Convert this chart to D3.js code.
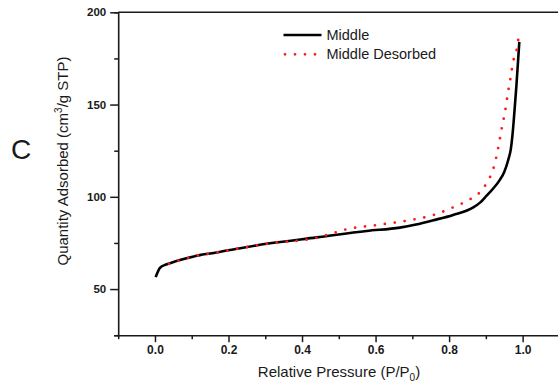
<!DOCTYPE html>
<html>
<head>
<meta charset="utf-8">
<script src="https://cdn.jsdelivr.net/npm/d3@7"></script>
<style>
html,body{margin:0;padding:0;background:#fff;}
svg{display:block;}
text{font-family:"Liberation Sans",Arial,sans-serif;fill:#1a1a1a;}
</style>
</head>
<body>
<svg id="chart" width="558" height="389"></svg>
<script>
// Adsorption branch ("Middle")
const adsP = [0.002,0.0136,0.030,0.045,0.068,0.122,0.150,0.204,0.313,0.440,0.576,0.666,0.710,0.757,0.811,0.866,0.885,0.902,0.920,0.938,0.950,0.961,0.968,0.972,0.976,0.983,0.991];
const adsQ = [56.5,61.5,63.3,64.3,65.7,68.4,69.3,71.2,74.8,78.0,81.5,83.3,85.0,87.3,90.2,94.3,97.0,100.6,104.5,109.2,113.5,120.1,126.0,132.7,141.8,160.0,184.0];
// Desorption branch ("Middle Desorbed")
const desP = [0.988,0.984,0.974,0.968,0.961,0.952,0.943,0.934,0.922,0.902,0.884,0.857,0.811,0.757,0.680,0.603,0.521,0.467,0.440,0.313,0.204,0.150,0.122,0.068,0.045,0.020];
const desQ = [185.0,180.0,173.0,165.5,157.5,146.0,137.0,127.0,116.4,107.4,102.5,98.7,94.3,90.1,86.9,84.7,82.4,79.3,77.8,74.8,71.2,69.3,68.4,65.7,64.3,62.5];
const xMajorTicks = [0.0,0.2,0.4,0.6,0.8,1.0];
const xMinorTicks = [-0.1,0.1,0.3,0.5,0.7,0.9,1.1];
const yMajorTicks = [50,100,150,200];
const yMinorTicks = [25,75,125,175];
const seriesNames = ["Middle","Middle Desorbed"];

const svg = d3.select("#chart");
const x = d3.scaleLinear().domain([-0.1,1.1]).range([118.2,559.4]);
const y = d3.scaleLinear().domain([25,200]).range([335.2,12.3]);
const ink = "#1a1a1a";

// plot frame top line
svg.append("line").attr("x1",118.2).attr("x2",558).attr("y1",12.3).attr("y2",12.3)
  .attr("stroke",ink).attr("stroke-width",1.6);

// X axis
const gx = svg.append("g").attr("transform","translate(0,335.2)");
gx.call(d3.axisBottom(x).tickValues(xMinorTicks).tickSize(4).tickFormat(""));
const gxM = svg.append("g").attr("transform","translate(0,335.2)");
gxM.call(d3.axisBottom(x).tickValues(xMajorTicks).tickSize(7).tickPadding(5).tickFormat(d3.format(".1f")));
[gx,gxM].forEach(g=>{
  g.select(".domain").attr("stroke",ink).attr("stroke-width",1.6);
  g.selectAll(".tick line").attr("stroke",ink).attr("stroke-width",1.5);
});
gx.select(".domain").attr("d","M118.2,0.5H558");
gxM.select(".domain").remove();
gxM.selectAll(".tick text").attr("font-size","12px").attr("font-weight","bold")
  .attr("y",null).attr("dy",null).attr("transform","translate(0,19)").style("fill",ink)
  .attr("font-family","Liberation Sans, Arial, sans-serif");

// Y axis
const gy = svg.append("g").attr("transform","translate(118.2,0)");
gy.call(d3.axisLeft(y).tickValues(yMinorTicks).tickSize(4).tickFormat(""));
const gyM = svg.append("g").attr("transform","translate(118.2,0)");
gyM.call(d3.axisLeft(y).tickValues(yMajorTicks).tickSize(8).tickPadding(4).tickFormat(d3.format("d")));
[gy,gyM].forEach(g=>{
  g.select(".domain").attr("stroke",ink).attr("stroke-width",1.6);
  g.selectAll(".tick line").attr("stroke",ink).attr("stroke-width",1.5);
});
gyM.select(".domain").remove();
gyM.selectAll(".tick text").attr("font-size","11.5px").attr("font-weight","bold").style("fill",ink)
  .attr("font-family","Liberation Sans, Arial, sans-serif");

// Curves
const lineGen = d3.line().x(d=>x(d[0])).y(d=>y(d[1])).curve(d3.curveMonotoneX);
const ads = adsP.map((p,i)=>[p,adsQ[i]]);
const des = desP.map((p,i)=>[p,desQ[i]]);
svg.append("path").attr("d",lineGen(ads))
  .attr("fill","none").attr("stroke","#000").attr("stroke-width",2.6).attr("stroke-linejoin","round");
svg.append("path").attr("d",lineGen(des))
  .attr("fill","none").attr("stroke","#ff1a1a").attr("stroke-width",2.8)
  .attr("stroke-linecap","round").attr("stroke-dasharray","0 10");

// Legend
svg.append("line").attr("x1",283.5).attr("x2",321.5).attr("y1",35).attr("y2",35)
  .attr("stroke","#000").attr("stroke-width",2.6);
svg.append("line").attr("x1",285).attr("x2",318).attr("y1",54.3).attr("y2",54.3)
  .attr("stroke","#ff1a1a").attr("stroke-width",2.8).attr("stroke-linecap","round").attr("stroke-dasharray","0 10");
svg.append("text").attr("x",326.5).attr("y",39.6).attr("font-size","14.5px").text(seriesNames[0]);
svg.append("text").attr("x",326.5).attr("y",58.8).attr("font-size","14.5px").text(seriesNames[1]);

// Axis titles
const xt = svg.append("text").attr("x",339).attr("y",377).attr("text-anchor","middle").attr("font-size","15px");
xt.append("tspan").text("Relative Pressure (P/P");
xt.append("tspan").attr("font-size","10px").attr("dy",4).text("0");
xt.append("tspan").attr("dy",-4).text(")");

const yt = svg.append("text").attr("transform","translate(67.5,161) rotate(-90)").attr("text-anchor","middle").attr("font-size","15px");
yt.append("tspan").text("Quantity Adsorbed (cm");
yt.append("tspan").attr("font-size","10px").attr("dy",-6).text("3");
yt.append("tspan").attr("dy",6).text("/g STP)");

// Panel letter
svg.append("text").attr("x",21).attr("y",158.5).attr("text-anchor","middle").attr("font-size","28px").text("C");
</script>
</body>
</html>
